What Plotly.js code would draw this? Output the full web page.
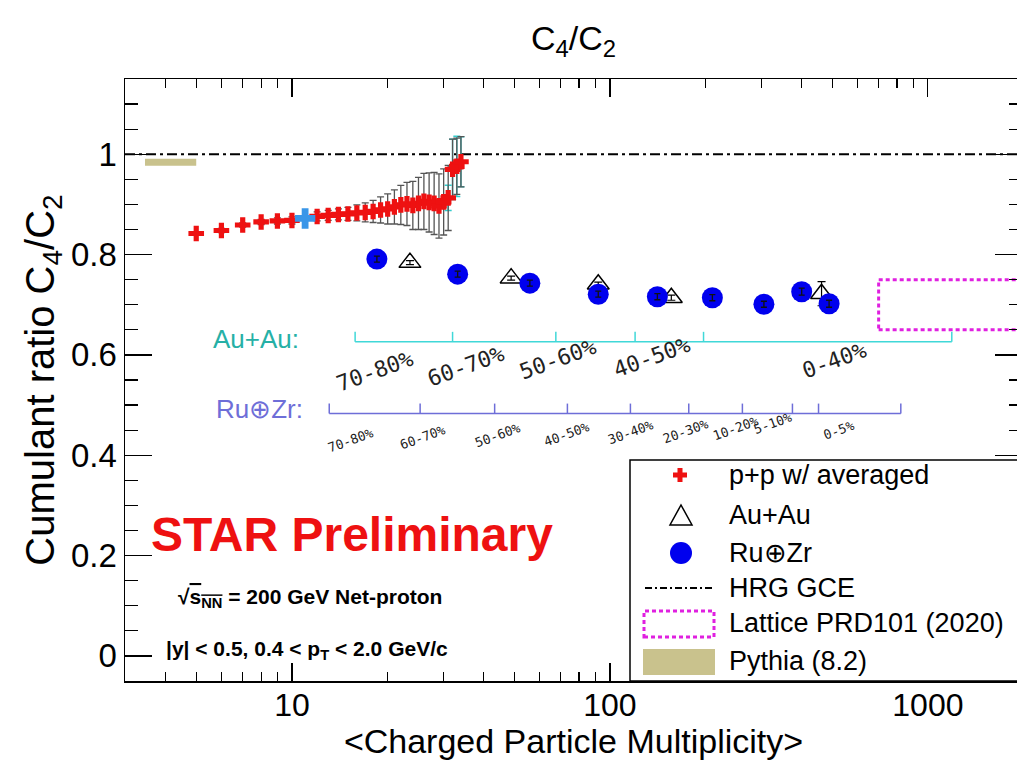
<!DOCTYPE html>
<html><head><meta charset="utf-8">
<script src="https://cdn.plot.ly/plotly-3.0.1.min.js"></script>
<style>html,body{margin:0;padding:0;overflow:hidden;background:#fff}#chart{width:1030px;height:760px}</style>
</head><body><div id="chart"></div>
<script>
// ---------------- data ----------------
const ppMult  = [5,6,7,8,9,10,12,13,14,15,16,17,18,19,20,21,22,23,24,25,26,27,28,29,30,31,32,33,34];
const ppRatio = [0.842,0.848,0.859,0.865,0.867,0.868,0.876,0.878,0.880,0.881,0.883,0.884,0.886,0.889,0.891,0.895,0.899,0.901,0.898,0.902,0.906,0.904,0.902,0.897,0.905,0.913,0.970,0.976,0.985];
const ppStatErr = [0.003,0.004,0.004,0.005,0.006,0.007,0.009,0.010,0.011,0.013,0.016,0.019,0.022,0.026,0.030,0.034,0.039,0.043,0.048,0.052,0.056,0.059,0.062,0.064,0.066,0.065,0.060,0.056,0.050];
const ppAvgMult  = [11];
const ppAvgRatio = [0.872];
const ppSysMult = [31,32,33,34];
const ppSysErr  = [0.025,0.060,0.060,0.050];

const auMult  = [23.5,48.9,91.9,156,463];
const auRatio = [0.784,0.753,0.741,0.714,0.722];
const auErr   = [0.004,0.004,0.004,0.005,0.024];

const ruMult  = [18.5,33.2,56.0,91.9,141,210,305,401,489];
const ruRatio = [0.791,0.761,0.743,0.721,0.716,0.714,0.701,0.726,0.702];
const ruErr   = [0.006,0.006,0.006,0.006,0.006,0.006,0.006,0.007,0.007];

const hrgValue     = [1.0];
const latticeMult  = [700,3000];
const latticeRange = [0.65,0.75];
const pythiaMult   = [3.45,5.0];
const pythiaRange  = [0.977,0.991];

const auEdges   = [15.8,32.0,67.6,120,197,1189];
const auClasses = ['70-80%','60-70%','50-60%','40-50%','0-40%'];
const ruEdges   = [13.1,25.3,43.4,73.5,116,177,261,375,453,822];
const ruClasses = ['70-80%','60-70%','50-60%','40-50%','30-40%','20-30%','10-20%','5-10%','0-5%'];

const xTickVals = [10,100,1000];
const xTickText = ['10','100','1000'];
const yTickVals = [0,0.2,0.4,0.6,0.8,1];
const yTickText = ['0','0.2','0.4','0.6','0.8','1'];

const legendLabels = ['p+p w/ averaged','Au+Au','Ru\u2295Zr','HRG GCE','Lattice PRD101 (2020)','Pythia (8.2)'];

// ---------------- layout helpers ----------------
const PL=125, PR=1022, PT=79, PB=681;
const px = X => (X-PL)/(PR-PL);
const py = Y => (PB-Y)/(PB-PT);
const pathPx = pts => 'M' + pts.map(p => px(p[0]).toFixed(5)+','+py(p[1]).toFixed(5)).join('L') + 'Z';

const RED='#ee1111', BLUE='#0000ee', KHAKI='#c9c28d', MAG='#e020e0', CYAN='#40d8d8', TEAL='#26b0a6', SLATE='#6e6ed8';

// x minor ticks (axis decoration)
const xMinor = [];
[1,10,100,1000].forEach(d => { for (let k=2;k<=9;k++){ const v=k*d; if (v>=3 && v<=2000) xMinor.push(v);} });

function scaleTrace(edges, yLine, tickH, color){
  const x=[edges[0], edges[edges.length-1], null], y=[yLine,yLine,null];
  edges.forEach(e => { x.push(e,e,null); y.push(yLine,yLine+tickH,null); });
  return {type:'scatter', mode:'lines', x, y, line:{color, width:1.5}, hoverinfo:'skip', showlegend:false};
}

const ppSysRatio = ppSysMult.map(m => ppRatio[ppMult.indexOf(m)]);

const traces = [
  {type:'scatter', mode:'lines', x:[pythiaMult[0],pythiaMult[1],pythiaMult[1],pythiaMult[0],pythiaMult[0]],
   y:[pythiaRange[0],pythiaRange[0],pythiaRange[1],pythiaRange[1],pythiaRange[0]],
   fill:'toself', fillcolor:KHAKI, line:{width:0,color:KHAKI}, showlegend:false, hoverinfo:'skip'},
  {type:'scatter', mode:'lines', x:[latticeMult[0],latticeMult[1],latticeMult[1],latticeMult[0],latticeMult[0]],
   y:[latticeRange[0],latticeRange[0],latticeRange[1],latticeRange[1],latticeRange[0]],
   line:{color:MAG, width:3, dash:'4px,3px'}, showlegend:false, hoverinfo:'skip'},
  scaleTrace(auEdges, 0.626, 0.02, CYAN),
  scaleTrace(ruEdges, 0.483, 0.02, SLATE),
  {type:'scatter', mode:'markers', x:ppSysMult, y:ppSysRatio, marker:{size:1,color:'rgba(0,0,0,0)'},
   error_y:{type:'data', array:ppSysErr, visible:true, color:'#33cccc', thickness:1.5, width:3.5}, showlegend:false},
  {type:'scatter', mode:'markers', name:'p+p w/ averaged', x:ppMult, y:ppRatio,
   marker:{symbol:'cross', size:13, color:RED, line:{width:0}},
   error_y:{type:'data', array:ppStatErr, visible:true, color:'#555555', thickness:1.3, width:3.5}, showlegend:false},
  {type:'scatter', mode:'markers', x:ppAvgMult, y:ppAvgRatio,
   marker:{symbol:'cross', size:17, color:'#3a96e8', line:{width:0}}, showlegend:false},
  {type:'scatter', mode:'markers', name:'Au+Au', x:auMult, y:auRatio,
   marker:{symbol:'triangle-up-open', size:19, color:'#000', line:{width:1.5,color:'#000'}},
   error_y:{type:'data', array:auErr, visible:true, color:'#000', thickness:1.2, width:4}, showlegend:false},
  {type:'scatter', mode:'markers', name:'Ru\u2295Zr', x:ruMult, y:ruRatio,
   marker:{symbol:'circle', size:21, color:BLUE, line:{width:0}}, showlegend:false},
  {type:'scatter', mode:'markers', x:ruMult, y:ruRatio, marker:{size:1,color:'rgba(0,0,0,0)'},
   error_y:{type:'data', array:ruErr, visible:true, color:'#111', thickness:1.3, width:3}, showlegend:false, hoverinfo:'skip'}
];

// ---------------- annotations ----------------
const auLabelPos = [[374,371],[465,366],[557,359],[651,357],[834,360]];
const ruLabelPos = [[350,440],[422,437],[497,435],[566,434],[630,432],[685,431],[735,428],[772,423],[838,430]];
const annotations = [];
auClasses.forEach((t,i) => annotations.push({xref:'paper', yref:'paper', x:px(auLabelPos[i][0]), y:py(auLabelPos[i][1]),
  text:t, showarrow:false, textangle:-20, xanchor:'center', yanchor:'middle', font:{family:'DejaVu Sans Mono', size:22, color:'#222'}}));
ruClasses.forEach((t,i) => annotations.push({xref:'paper', yref:'paper', x:px(ruLabelPos[i][0]), y:py(ruLabelPos[i][1]),
  text:t, showarrow:false, textangle:-20, xanchor:'center', yanchor:'middle', font:{family:'DejaVu Sans Mono', size:13, color:'#222'}}));
annotations.push({xref:'paper', yref:'paper', x:px(256), y:py(339), text:'Au+Au:', showarrow:false, xanchor:'center', yanchor:'middle', font:{size:26, color:TEAL}});
annotations.push({xref:'paper', yref:'paper', x:px(259), y:py(409), text:'Ru\u2295Zr:', showarrow:false, xanchor:'center', yanchor:'middle', font:{size:26, color:SLATE}});
annotations.push({xref:'paper', yref:'paper', x:px(352), y:py(534), text:'<b>STAR Preliminary</b>', showarrow:false, xanchor:'center', yanchor:'middle', font:{size:48, color:RED}});
annotations.push({xref:'paper', yref:'paper', x:px(176), y:py(598), text:'<b>\u221A<span style="text-decoration:overline">s<sub>NN</sub></span> = 200 GeV Net-proton</b>', showarrow:false, xanchor:'left', yanchor:'middle', font:{size:21, color:'#000'}});
annotations.push({xref:'paper', yref:'paper', x:px(164), y:py(650), text:'<b>|y| &lt; 0.5, 0.4 &lt; p<sub>T</sub> &lt; 2.0 GeV/c</b>', showarrow:false, xanchor:'left', yanchor:'middle', font:{size:21, color:'#000'}});

const legRows = [475,515,553,588,623,661];
legendLabels.forEach((t,i) => annotations.push({xref:'paper', yref:'paper', x:px(727), y:py(legRows[i]), text:t, showarrow:false,
  xanchor:'left', yanchor:'middle', font:{size:27, color:'#000'}}));

const cx=680;
const shapes = [
  {type:'line', xref:'paper', yref:'y', x0:0, x1:1, y0:hrgValue[0], y1:hrgValue[0], line:{color:'#000', width:2.2, dash:'10px,4px,3px,4px'}, layer:'below'},
  {type:'rect', xref:'paper', yref:'paper', x0:px(630), x1:px(1030), y0:0, y1:py(460), line:{color:'#000', width:1.5}, fillcolor:'#fff', layer:'above'},
  {type:'path', xref:'paper', yref:'paper', path:pathPx([[cx-2.5,475-7],[cx+2.5,475-7],[cx+2.5,475-2.5],[cx+7,475-2.5],[cx+7,475+2.5],[cx+2.5,475+2.5],[cx+2.5,475+7],[cx-2.5,475+7],[cx-2.5,475+2.5],[cx-7,475+2.5],[cx-7,475-2.5],[cx-2.5,475-2.5]]), fillcolor:RED, line:{width:0}},
  {type:'path', xref:'paper', yref:'paper', path:pathPx([[670,525],[692,525],[681,505]]), line:{color:'#000', width:1.5}},
  {type:'circle', xref:'paper', yref:'paper', x0:px(670), x1:px(692), y0:py(564), y1:py(542), fillcolor:BLUE, line:{width:0}},
  {type:'line', xref:'paper', yref:'paper', x0:px(645), x1:px(712), y0:py(588), y1:py(588), line:{color:'#000', width:2, dash:'7px,3px,2px,3px'}},
  {type:'rect', xref:'paper', yref:'paper', x0:px(644), x1:px(714), y0:py(637), y1:py(611), line:{color:MAG, width:3, dash:'4px,3px'}},
  {type:'rect', xref:'paper', yref:'paper', x0:px(643), x1:px(715), y0:py(675), y1:py(649), fillcolor:KHAKI, line:{width:0}}
];

const layout = {
  width:1030, height:760,
  margin:{l:PL, r:1030-PR, t:PT, b:760-PB},
  paper_bgcolor:'#fff', plot_bgcolor:'#fff',
  font:{family:'Liberation Sans, Arial, sans-serif', color:'#000'},
  showlegend:false,
  title:{text:'C<sub>4</sub>/C<sub>2</sub>', font:{size:34, color:'#000'}, xref:'paper', x:0.5, xanchor:'center', yref:'container', y:1-38/760, yanchor:'middle'},
  xaxis:{type:'log', range:[Math.log10(2.985), Math.log10(1977)], showgrid:false, zeroline:false,
    showline:true, linecolor:'#000', linewidth:1.5, mirror:'ticks',
    tickmode:'array', tickvals:xTickVals, ticktext:xTickText, ticks:'inside', ticklen:18, tickwidth:1.2, tickcolor:'#000',
    tickfont:{size:32}, ticklabelstandoff:-5,
    minor:{tickmode:'array', tickvals:xMinor, ticks:'inside', ticklen:9, tickwidth:1.2, tickcolor:'#000', showgrid:false},
    title:{text:'&lt;Charged Particle Multiplicity&gt;', font:{size:34}, standoff:9}},
  yaxis:{range:[-0.05,1.15], showgrid:false, zeroline:false,
    showline:true, linecolor:'#000', linewidth:1.5, mirror:'ticks',
    tickmode:'array', tickvals:yTickVals, ticktext:yTickText, ticks:'inside', ticklen:27, tickwidth:1.2, tickcolor:'#000',
    tickfont:{size:33},
    minor:{dtick:0.05, tick0:0, ticks:'inside', ticklen:13, tickwidth:1.2, tickcolor:'#000', showgrid:false},
    title:{text:'Cumulant ratio C<sub>4</sub>/C<sub>2</sub>', font:{size:40}, standoff:4}},
  annotations, shapes
};

Plotly.newPlot('chart', traces, layout, {displayModeBar:false, staticPlot:true});
</script>
</body></html>
